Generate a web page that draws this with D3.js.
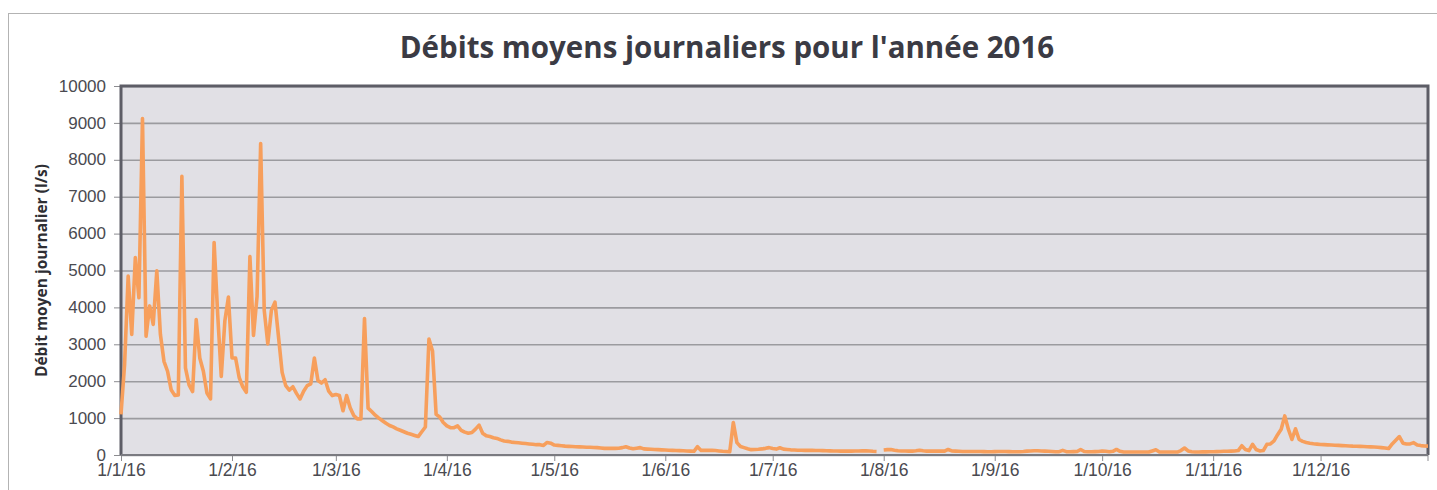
<!DOCTYPE html>
<html>
<head>
<meta charset="utf-8">
<script src="https://cdn.jsdelivr.net/npm/d3@7"></script>
<style>
  body { margin: 0; background: #fff; }
  svg { display: block; font-family: 'Open Sans', sans-serif; }
  .title { font-weight: 700; fill: #3b3b44; }
  .axis-label { font-weight: 700; fill: #2e2e33; }
  .tick text { fill: #4a4a50; }
</style>
</head>
<body>
<svg width="1437" height="490"></svg>
<script>
// débits moyens journaliers (l/s), un tableau par mois, 2016
const startDate = new Date(2016, 0, 1);
const janFlow = [1100, 2450, 4850, 3270, 5350, 4260, 9120, 3220, 4040, 3540, 4990, 3270, 2540, 2270, 1770, 1615, 1630, 7550, 2360, 1900, 1720, 3670, 2630, 2270, 1680, 1520, 5760, 3810, 2130, 3630, 4280];
const febFlow = [2630, 2630, 2100, 1850, 1700, 5380, 3240, 4300, 8440, 3920, 3010, 3920, 4140, 3190, 2240, 1880, 1760, 1850, 1670, 1520, 1730, 1880, 1930, 2630, 2020, 1950, 2040, 1730, 1610];
const marFlow = [1640, 1610, 1200, 1610, 1280, 1070, 980, 980, 3700, 1270, 1180, 1080, 1000, 930, 860, 800, 760, 710, 670, 630, 590, 560, 530, 500, 630, 760, 3140, 2820, 1100, 1030, 880];
const aprFlow = [790, 740, 740, 790, 670, 620, 590, 610, 700, 810, 590, 520, 500, 470, 450, 410, 380, 370, 350, 340, 330, 320, 310, 300, 290, 280, 280, 260, 340, 320];
const mayFlow = [270, 260, 250, 240, 235, 230, 225, 220, 215, 212, 210, 205, 200, 190, 180, 180, 180, 180, 185, 200, 225, 190, 170, 185, 200, 165, 160, 155, 150, 145, 140];
const junFlow = [135, 130, 125, 120, 118, 115, 110, 105, 100, 225, 125, 125, 125, 125, 120, 110, 100, 95, 90, 880, 335, 230, 200, 170, 145, 150, 155, 165, 180, 200];
const julFlow = [175, 160, 195, 160, 150, 140, 135, 130, 128, 126, 125, 125, 122, 120, 118, 115, 112, 110, 108, 105, 105, 105, 105, 108, 110, 112, 115, 108, 100, 95, null];
const augFlow = [135, 145, 150, 130, 115, 110, 108, 105, 105, 115, 130, 115, 105, 105, 105, 105, 105, 105, 150, 110, 105, 100, 95, 95, 95, 95, 95, 95, 92, 90, 90];
const sepFlow = [92, 95, 95, 95, 92, 90, 90, 90, 95, 105, 110, 115, 115, 110, 105, 100, 95, 90, 90, 125, 90, 90, 92, 95, 150, 95, 90, 90, 92, 95];
const octFlow = [110, 100, 90, 100, 150, 100, 80, 80, 80, 80, 80, 80, 80, 80, 110, 140, 80, 80, 80, 80, 80, 80, 120, 190, 110, 90, 80, 80, 85, 85, 90];
const novFlow = [90, 92, 95, 100, 100, 105, 110, 120, 250, 150, 120, 290, 150, 110, 120, 290, 300, 380, 550, 700, 1060, 700, 420, 710, 420, 370, 340, 320, 305, 295];
const decFlow = [285, 280, 275, 270, 265, 260, 255, 250, 245, 240, 238, 235, 230, 225, 220, 215, 210, 200, 190, 175, 300, 400, 500, 320, 300, 300, 335, 270, 255, 245, 240];
const yTicks = [0, 1000, 2000, 3000, 4000, 5000, 6000, 7000, 8000, 9000, 10000];

const svg = d3.select('svg');
const width = +svg.attr('width');
const height = +svg.attr('height');

const render = data => {
    const xValue = d => d.date;
    const yValue = d => d.flow;
    const margin = {top: 86, right: 9, bottom: 35, left: 121};
    const innerWidth = width - margin.left - margin.right;
    const innerHeight = height - margin.top - margin.bottom;

    // cadre extérieur du graphique
    svg.append('rect')
        .attr('x', 8.5).attr('y', 13.5)
        .attr('width', width).attr('height', height)
        .attr('fill', 'none')
        .attr('stroke', '#b3b3b3');

    const xScale = d3.scaleTime()
        .domain(d3.extent(data, xValue))
        .range([0, innerWidth]);

    const yScale = d3.scaleLinear()
        .domain([0, 10000])
        .range([innerHeight, 0]);

    const g = svg.append('g')
        .attr('transform', `translate(${margin.left}, ${margin.top})`);

    g.append('rect')
        .attr('width', innerWidth)
        .attr('height', innerHeight)
        .attr('fill', '#e1e0e5');

    const yAxis = d3.axisLeft(yScale)
        .tickValues(yTicks)
        .tickFormat(d3.format('d'))
        .tickSize(-innerWidth)
        .tickPadding(15);
    const yAxisG = g.append('g').call(yAxis);
    yAxisG.select('.domain').remove();
    yAxisG.selectAll('.tick line')
        .attr('stroke', '#9b9b9f')
        .attr('stroke-width', 1.6);
    yAxisG.selectAll('.tick')
        .append('line')
        .attr('x1', -7).attr('x2', 0)
        .attr('stroke', '#8c8c90');
    yAxisG.selectAll('.tick text')
        .attr('font-size', 17)
        .attr('dy', '0.3em');

    const xAxis = d3.axisBottom(xScale)
        .tickValues(d3.timeMonth.range(startDate, new Date(2017, 0, 1)))
        .tickFormat(d3.timeFormat('%-d/%-m/%y'))
        .tickSize(6)
        .tickPadding(4);
    const xAxisG = g.append('g').call(xAxis)
        .attr('transform', `translate(0, ${innerHeight})`);
    xAxisG.select('.domain').remove();
    xAxisG.selectAll('.tick line').attr('stroke', '#8c8c90');
    xAxisG.append('line')
        .attr('x1', innerWidth).attr('x2', innerWidth)
        .attr('y2', 6)
        .attr('stroke', '#8c8c90');
    xAxisG.selectAll('.tick text')
        .attr('font-size', 17.5)
        .attr('dy', '0.62em');

    // bordure du tracé
    g.append('path')
        .attr('d', `M0,${innerHeight}V0H${innerWidth}V${innerHeight}`)
        .attr('fill', 'none')
        .attr('stroke', '#5d5d66')
        .attr('stroke-width', 3);
    g.append('line')
        .attr('x1', 0).attr('x2', innerWidth)
        .attr('y1', innerHeight).attr('y2', innerHeight)
        .attr('stroke', '#7a7a80')
        .attr('stroke-width', 2);

    const lineGenerator = d3.line()
        .defined(d => yValue(d) !== null)
        .x(d => xScale(xValue(d)))
        .y(d => yScale(yValue(d)));

    g.append('path')
        .datum(data)
        .attr('d', lineGenerator)
        .attr('fill', 'none')
        .attr('stroke', '#f79f5c')
        .attr('stroke-width', 3.6)
        .attr('stroke-linejoin', 'round');

    svg.append('text')
        .text('Débits moyens journaliers pour l\'année 2016')
        .attr('class', 'title')
        .attr('x', 727)
        .attr('y', 58)
        .attr('text-anchor', 'middle')
        .attr('font-size', 29.5);

    svg.append('text')
        .text('Débit moyen journalier (l/s)')
        .attr('class', 'axis-label')
        .attr('transform', `translate(47, ${margin.top + innerHeight / 2}) rotate(-90)`)
        .attr('text-anchor', 'middle')
        .attr('font-size', 15.5);
};

const flows = [].concat(janFlow, febFlow, marFlow, aprFlow, mayFlow, junFlow,
    julFlow, augFlow, sepFlow, octFlow, novFlow, decFlow);
const data = flows.map((flow, i) => ({
    date: d3.timeDay.offset(startDate, i),
    flow: flow
}));
render(data);
</script>
</body>
</html>
